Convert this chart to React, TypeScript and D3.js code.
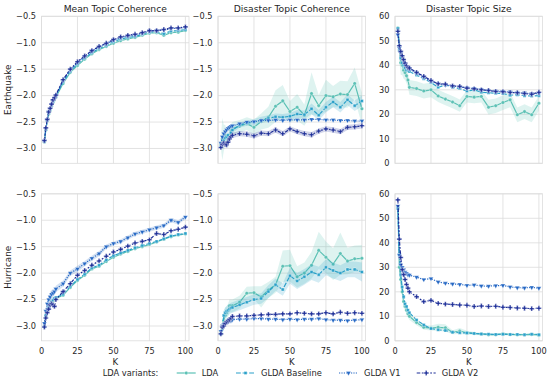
import { useEffect, useRef } from "react"
import * as d3 from "d3"

// K values (number of topics) shared by all series
const kValues = [2, 3, 4, 5, 6, 7, 8, 9, 10, 15, 20, 25, 30, 35, 40, 45, 50, 55, 60, 65, 70, 75, 80, 85, 90, 95, 100]

const variantNames = ["LDA", "GLDA Baseline", "GLDA V1", "GLDA V2"]
const columnTitles = ["Mean Topic Coherence", "Disaster Topic Coherence", "Disaster Topic Size"]
const rowTitles = ["Earthquake", "Hurricane"]
const kTicks = [0, 25, 50, 75, 100]
const coherenceTicks = [-3.0, -2.5, -2.0, -1.5, -1.0, -0.5]
const sizeTicks = [0, 10, 20, 30, 40, 50, 60]

// Earthquake - mean topic coherence
const eqMeanLDA = [-2.88, -2.65, -2.48, -2.35, -2.28, -2.2, -2.13, -2.08, -2.03, -1.77, -1.56, -1.43, -1.31, -1.21, -1.13, -1.07, -1.01, -0.96, -0.93, -0.9, -0.86, -0.82, -0.81, -0.86, -0.81, -0.8, -0.77]
const eqMeanBase = [-2.87, -2.64, -2.47, -2.33, -2.26, -2.18, -2.11, -2.06, -2.01, -1.74, -1.54, -1.4, -1.29, -1.19, -1.11, -1.05, -0.98, -0.93, -0.9, -0.88, -0.84, -0.8, -0.79, -0.83, -0.78, -0.77, -0.75]
const eqMeanV1 = [-2.86, -2.62, -2.46, -2.31, -2.25, -2.17, -2.09, -2.05, -2.0, -1.71, -1.51, -1.37, -1.26, -1.16, -1.08, -1.02, -0.95, -0.9, -0.87, -0.85, -0.82, -0.78, -0.77, -0.76, -0.73, -0.73, -0.71]
const eqMeanV2 = [-2.85, -2.61, -2.45, -2.31, -2.24, -2.16, -2.08, -2.04, -1.99, -1.7, -1.5, -1.36, -1.25, -1.15, -1.07, -1.01, -0.94, -0.89, -0.86, -0.84, -0.81, -0.77, -0.77, -0.75, -0.72, -0.72, -0.7]

// Earthquake - disaster topic coherence
const eqDisLDA = [-2.9, -2.82, -2.8, -2.75, -2.8, -2.85, -2.75, -2.66, -2.62, -2.58, -2.53, -2.6, -2.49, -2.41, -2.2, -2.1, -2.3, -2.22, -2.37, -1.96, -2.19, -2.0, -2.02, -1.97, -1.98, -1.77, -2.25]
const eqDisLDABand = [0.1, 0.4, 0.25, 0.2, 0.15, 0.15, 0.12, 0.12, 0.12, 0.12, 0.12, 0.15, 0.15, 0.2, 0.3, 0.3, 0.2, 0.25, 0.2, 0.4, 0.2, 0.3, 0.2, 0.25, 0.25, 0.3, 0.3]
const eqDisBase = [-2.95, -2.9, -2.85, -2.8, -2.78, -2.75, -2.8, -2.7, -2.65, -2.56, -2.52, -2.5, -2.46, -2.43, -2.4, -2.41, -2.39, -2.35, -2.36, -2.25, -2.37, -2.22, -2.12, -2.22, -2.08, -2.19, -2.1]
const eqDisBaseBand = [0.04, 0.05, 0.05, 0.05, 0.05, 0.05, 0.05, 0.05, 0.05, 0.05, 0.05, 0.06, 0.06, 0.06, 0.06, 0.06, 0.06, 0.08, 0.08, 0.1, 0.1, 0.1, 0.1, 0.1, 0.1, 0.1, 0.1]
const eqDisV1 = [-2.9, -2.78, -2.72, -2.68, -2.65, -2.62, -2.6, -2.58, -2.57, -2.53, -2.5, -2.49, -2.47, -2.47, -2.46, -2.47, -2.46, -2.46, -2.46, -2.45, -2.45, -2.46, -2.46, -2.47, -2.47, -2.48, -2.48]
const eqDisV2 = [-2.98, -2.92, -2.9, -2.92, -2.93, -2.88, -2.82, -2.78, -2.75, -2.72, -2.73, -2.76, -2.71, -2.72, -2.65, -2.72, -2.63, -2.68, -2.72, -2.74, -2.67, -2.63, -2.65, -2.68, -2.6, -2.59, -2.57]
const eqDisV2Band = [0.04, 0.05, 0.05, 0.05, 0.05, 0.05, 0.05, 0.05, 0.05, 0.05, 0.05, 0.05, 0.05, 0.05, 0.05, 0.05, 0.05, 0.05, 0.05, 0.05, 0.05, 0.05, 0.05, 0.05, 0.05, 0.05, 0.05]

// Earthquake - disaster topic size
const eqSizeLDA = [55.2, 48, 41, 40, 38, 37, 35.7, 34, 31, 30.5, 29.5, 30, 27.5, 26.2, 25, 23.5, 27.3, 27, 27.3, 22.9, 23.5, 24.8, 25.9, 19.8, 21.1, 19.8, 24.5]
const eqSizeLDABand = [1, 6, 5, 4, 3.5, 3, 3, 3, 3, 3, 3, 3, 2.5, 2.5, 2.5, 2.5, 2.5, 2.5, 2.5, 3, 3, 3, 3, 3, 3, 3, 3]
const eqSizeBase = [55, 46, 43, 41, 40, 39, 38, 38, 37.5, 36, 34.5, 33, 31, 32, 31, 30.5, 29.5, 30, 29, 28.8, 28.6, 28.5, 27.8, 28, 27.6, 27.5, 27.6]
const eqSizeV1 = [52.5, 47, 45, 43.5, 42, 40.5, 39.5, 39, 38.5, 36.8, 35.2, 33.5, 32.3, 32, 31.5, 31.2, 30.8, 30.6, 30.2, 29.8, 29.5, 29.4, 29.1, 28.8, 28.7, 28.4, 28.5]
const eqSizeV2 = [53.9, 48, 45.7, 43.9, 42.3, 40.9, 39.8, 39.1, 38.9, 37.1, 35.5, 33.8, 32.5, 32.3, 31.6, 31.4, 30.7, 30.4, 30, 29.7, 29.3, 29.2, 28.9, 28.8, 28.5, 28.2, 29]

// Hurricane - mean topic coherence
const huMeanLDA = [-3.02, -2.82, -2.72, -2.66, -2.6, -2.56, -2.53, -2.5, -2.48, -2.42, -2.27, -2.14, -2.04, -1.92, -1.87, -1.78, -1.7, -1.64, -1.59, -1.54, -1.5, -1.46, -1.41, -1.36, -1.31, -1.28, -1.26]
const huMeanBase = [-3.0, -2.8, -2.7, -2.64, -2.58, -2.54, -2.51, -2.48, -2.46, -2.4, -2.25, -2.12, -2.02, -1.9, -1.85, -1.75, -1.67, -1.62, -1.57, -1.52, -1.48, -1.44, -1.4, -1.35, -1.3, -1.27, -1.25]
const huMeanV1 = [-2.95, -2.72, -2.58, -2.5, -2.45, -2.4, -2.38, -2.35, -2.3, -2.2, -2.0, -1.92, -1.82, -1.72, -1.63, -1.5, -1.44, -1.4, -1.33, -1.26, -1.22, -1.18, -1.14, -1.1, -1.0, -1.04, -0.94]
const huMeanV1Band = [0.04, 0.06, 0.08, 0.08, 0.08, 0.08, 0.08, 0.06, 0.06, 0.06, 0.05, 0.06, 0.05, 0.05, 0.05, 0.04, 0.04, 0.04, 0.04, 0.04, 0.04, 0.04, 0.04, 0.04, 0.04, 0.04, 0.04]
const huMeanV2 = [-3.02, -2.85, -2.75, -2.68, -2.6, -2.58, -2.6, -2.63, -2.5, -2.35, -2.2, -2.04, -1.95, -1.85, -1.77, -1.68, -1.6, -1.55, -1.49, -1.43, -1.4, -1.37, -1.25, -1.27, -1.2, -1.17, -1.13]

// Hurricane - disaster topic coherence
const huDisLDA = [-3.1, -3.0, -2.9, -2.8, -2.75, -2.7, -2.62, -2.62, -2.62, -2.55, -2.38, -2.37, -2.45, -2.32, -2.22, -1.87, -1.86, -2.07, -2.0, -1.85, -1.57, -1.7, -1.83, -1.63, -1.77, -1.73, -1.72]
const huDisLDABand = [0.05, 0.1, 0.15, 0.15, 0.12, 0.12, 0.12, 0.12, 0.12, 0.12, 0.12, 0.12, 0.2, 0.15, 0.15, 0.3, 0.3, 0.2, 0.2, 0.25, 0.35, 0.3, 0.3, 0.4, 0.25, 0.25, 0.25]
const huDisBase = [-3.15, -3.05, -2.8, -2.75, -2.72, -2.7, -2.68, -2.66, -2.65, -2.6, -2.55, -2.5, -2.48, -2.35, -2.22, -2.31, -2.05, -2.15, -2.07, -1.98, -2.03, -1.89, -1.95, -2.0, -1.93, -1.93, -1.98]
const huDisBaseBand = [0.05, 0.08, 0.1, 0.1, 0.1, 0.1, 0.1, 0.1, 0.1, 0.1, 0.1, 0.1, 0.1, 0.12, 0.12, 0.12, 0.15, 0.15, 0.15, 0.15, 0.15, 0.15, 0.15, 0.15, 0.15, 0.15, 0.18]
const huDisV1 = [-3.1, -3.0, -2.97, -2.95, -2.93, -2.92, -2.9, -2.9, -2.88, -2.87, -2.87, -2.86, -2.86, -2.87, -2.87, -2.88, -2.87, -2.88, -2.87, -2.87, -2.86, -2.88, -2.89, -2.89, -2.9, -2.89, -2.88]
const huDisV2 = [-3.15, -3.02, -3.0, -2.95, -2.92, -2.9, -2.88, -2.85, -2.82, -2.81, -2.81, -2.8, -2.79, -2.78, -2.78, -2.77, -2.77, -2.75, -2.76, -2.77, -2.77, -2.75, -2.77, -2.74, -2.76, -2.75, -2.76]

// Hurricane - disaster topic size
const huSizeLDA = [54.5, 30, 25, 20, 16, 14, 12.5, 11, 10, 7.5, 5.5, 5.2, 5.5, 5.3, 3.5, 4, 3.3, 3, 2.8, 2.5, 2.5, 2.8, 2.6, 2.5, 2.5, 2.6, 2.4]
const huSizeLDABand = [1, 3, 3, 2.5, 2, 1.8, 1.5, 1.5, 1.5, 1.2, 1, 1, 1.5, 1.5, 0.8, 1.2, 0.8, 0.6, 0.5, 0.5, 0.5, 0.5, 0.5, 0.5, 0.5, 0.5, 0.5]
const huSizeBase = [54, 35, 27, 22, 18, 15, 14, 12.5, 11.5, 8.5, 6.5, 5, 4.5, 4.2, 3.5, 3.3, 3.2, 3, 2.8, 2.7, 2.6, 2.7, 2.6, 2.6, 2.5, 2.7, 2.5]
const huSizeV1 = [55, 35, 31, 30, 29, 28, 27.5, 27, 26.8, 26, 25, 25.4, 24, 23.5, 23.2, 23, 22.6, 22.8, 22.4, 22.3, 22.5, 22.6, 22, 21.7, 21.6, 21.8, 21.5]
const huSizeV2 = [57.5, 41.5, 34, 29, 27, 25, 23, 21.5, 20, 18, 16, 16.5, 15.3, 15, 14.8, 14.6, 14.5, 14, 14.2, 14, 14.1, 13.7, 13.6, 13.4, 13.3, 13.1, 13.3]

type Series = { values: number[]; band?: number[] }
type Panel = { row: number; col: number; series: Series[] }

const panels: Panel[] = [
    { row: 0, col: 0, series: [{ values: eqMeanLDA }, { values: eqMeanBase }, { values: eqMeanV1 }, { values: eqMeanV2 }] },
    { row: 0, col: 1, series: [{ values: eqDisLDA, band: eqDisLDABand }, { values: eqDisBase, band: eqDisBaseBand }, { values: eqDisV1 }, { values: eqDisV2, band: eqDisV2Band }] },
    { row: 0, col: 2, series: [{ values: eqSizeLDA, band: eqSizeLDABand }, { values: eqSizeBase }, { values: eqSizeV1 }, { values: eqSizeV2 }] },
    { row: 1, col: 0, series: [{ values: huMeanLDA }, { values: huMeanBase }, { values: huMeanV1, band: huMeanV1Band }, { values: huMeanV2 }] },
    { row: 1, col: 1, series: [{ values: huDisLDA, band: huDisLDABand }, { values: huDisBase, band: huDisBaseBand }, { values: huDisV1 }, { values: huDisV2 }] },
    { row: 1, col: 2, series: [{ values: huSizeLDA, band: huSizeLDABand }, { values: huSizeBase }, { values: huSizeV1 }, { values: huSizeV2 }] },
]

export default function App() {
    const ref = useRef<SVGSVGElement>(null)

    const width = 550, height = 381
    const colLeft = [41.5, 218, 395], rowTop = [16.3, 193.8]
    const panelW = 147.5, panelH = 147
    const font = "DejaVu Sans"
    const textColor = "#262626", gridColor = "#dcdcdc"
    const colors = ["#5cc1b5", "#2aa0c9", "#2467c4", "#1d2e98"]
    const lw = 1.2
    const dashes = ["", `${4 * lw},${1.5 * lw}`, `${1 * lw},${1 * lw}`, `${3 * lw},${1.25 * lw},${1.5 * lw},${1.25 * lw}`]
    const symbols = [d3.symbolCircle, d3.symbolSquare, d3.symbolTriangle, d3.symbolCross]
    const symbolSizes = [10, 9, 10, 13]

    const drawChart = () => {
        const svg = d3.select(ref.current)
        svg.selectAll("*").remove()

        const xScale = d3.scaleLinear().domain([0, 102.5]).range([0, panelW])

        panels.forEach((p) => {
            const isSize = p.col === 2
            const yScale = d3.scaleLinear()
                .domain(isSize ? [0, 60] : [-3.28, -0.5])
                .range([panelH, 0])
            const yTicks = isSize ? sizeTicks : coherenceTicks
            const yFmt = isSize ? d3.format("d") : d3.format(".1f")

            const g = svg.append("g")
                .attr("transform", `translate(${colLeft[p.col]}, ${rowTop[p.row]})`)

            // grid
            g.selectAll(".gx").data(kTicks).join("line")
                .attr("x1", (d) => xScale(d)).attr("x2", (d) => xScale(d))
                .attr("y1", 0).attr("y2", panelH)
                .attr("stroke", gridColor).attr("stroke-width", 0.8)
            g.selectAll(".gy").data(yTicks).join("line")
                .attr("x1", 0).attr("x2", panelW)
                .attr("y1", (d) => yScale(d)).attr("y2", (d) => yScale(d))
                .attr("stroke", gridColor).attr("stroke-width", 0.8)
            g.append("rect")
                .attr("width", panelW).attr("height", panelH)
                .attr("fill", "none").attr("stroke", gridColor).attr("stroke-width", 0.8)

            // y tick labels
            g.selectAll(".yl").data(yTicks).join("text")
                .attr("x", -5.5).attr("y", (d) => yScale(d)).attr("dy", "0.35em")
                .attr("text-anchor", "end")
                .attr("font-family", font).attr("font-size", 8.2).attr("fill", textColor)
                .text((d) => yFmt(d))

            if (p.row === 1) {
                g.selectAll(".xl").data(kTicks).join("text")
                    .attr("x", (d) => xScale(d)).attr("y", panelH + 10).attr("dy", "0.35em")
                    .attr("text-anchor", "middle")
                    .attr("font-family", font).attr("font-size", 8.2).attr("fill", textColor)
                    .text((d) => d)
                g.append("text")
                    .attr("x", panelW / 2).attr("y", panelH + 21.5).attr("dy", "0.35em")
                    .attr("text-anchor", "middle")
                    .attr("font-family", font).attr("font-size", 8.6).attr("fill", textColor)
                    .text("K")
            } else {
                g.append("text")
                    .attr("x", panelW / 2).attr("y", -7.8).attr("dy", "0.35em")
                    .attr("text-anchor", "middle")
                    .attr("font-family", font).attr("font-size", 9.2).attr("fill", textColor)
                    .text(columnTitles[p.col])
            }

            if (p.col === 0) {
                g.append("text")
                    .attr("transform", `translate(${7.5 - colLeft[0]}, ${panelH / 2}) rotate(-90)`)
                    .attr("dy", "0.35em")
                    .attr("text-anchor", "middle")
                    .attr("font-family", font).attr("font-size", 8.8).attr("fill", textColor)
                    .text(rowTitles[p.row])
            }

            const clipId = `clip-${p.row}-${p.col}`
            g.append("defs").append("clipPath").attr("id", clipId)
                .append("rect").attr("width", panelW).attr("height", panelH)
            const plot = g.append("g").attr("clip-path", `url(#${clipId})`)

            p.series.forEach((s, i) => {
                const pts = kValues.map((k, j) => ({ k, v: s.values[j], b: s.band ? s.band[j] : 0 }))
                const line = d3.line<typeof pts[0]>()
                    .x((d) => xScale(d.k)).y((d) => yScale(d.v))

                plot.append("path")
                    .attr("d", line(pts))
                    .attr("fill", "none")
                    .attr("stroke", colors[i])
                    .attr("stroke-width", lw)
                    .attr("stroke-dasharray", dashes[i] || null)

                if (s.band) {
                    const area = d3.area<typeof pts[0]>()
                        .x((d) => xScale(d.k))
                        .y0((d) => yScale(d.v - d.b))
                        .y1((d) => yScale(d.v + d.b))
                    plot.append("path")
                        .attr("d", area(pts))
                        .attr("fill", colors[i])
                        .attr("fill-opacity", 0.2)
                }

                const sym = d3.symbol().type(symbols[i]).size(symbolSizes[i])
                plot.selectAll(`.m${i}`).data(pts).join("path")
                    .attr("transform", (d) => `translate(${xScale(d.k)}, ${yScale(d.v)})${i === 2 ? " rotate(180)" : ""}`)
                    .attr("d", sym())
                    .attr("fill", colors[i])
                    .attr("stroke", "white")
                    .attr("stroke-width", 0.35)
            })
        })

        // legend
        const legendY = 373
        svg.append("text")
            .attr("x", 102.7).attr("y", legendY).attr("dy", "0.35em")
            .attr("font-family", font).attr("font-size", 8.3).attr("fill", textColor)
            .text("LDA variants:")

        const legendX = [176.7, 236, 339, 416.7]
        variantNames.forEach((name, i) => {
            const lg = svg.append("g").attr("transform", `translate(${legendX[i]}, ${legendY})`)
            lg.append("line")
                .attr("x1", 0).attr("x2", 19).attr("y1", 0).attr("y2", 0)
                .attr("stroke", colors[i]).attr("stroke-width", lw)
                .attr("stroke-dasharray", dashes[i] || null)
            lg.append("path")
                .attr("transform", `translate(9.5, 0)${i === 2 ? " rotate(180)" : ""}`)
                .attr("d", d3.symbol().type(symbols[i]).size(symbolSizes[i])())
                .attr("fill", colors[i]).attr("stroke", "white").attr("stroke-width", 0.35)
            lg.append("text")
                .attr("x", 25).attr("y", 0).attr("dy", "0.35em")
                .attr("font-family", font).attr("font-size", 8.3).attr("fill", textColor)
                .text(name)
        })
    }

    useEffect(() => {
        drawChart()
    }, [])

    return (
        <svg ref={ref} width={width} height={height}
            style={{ position: "absolute", left: 0, top: 0, background: "white" }} />
    )
}
